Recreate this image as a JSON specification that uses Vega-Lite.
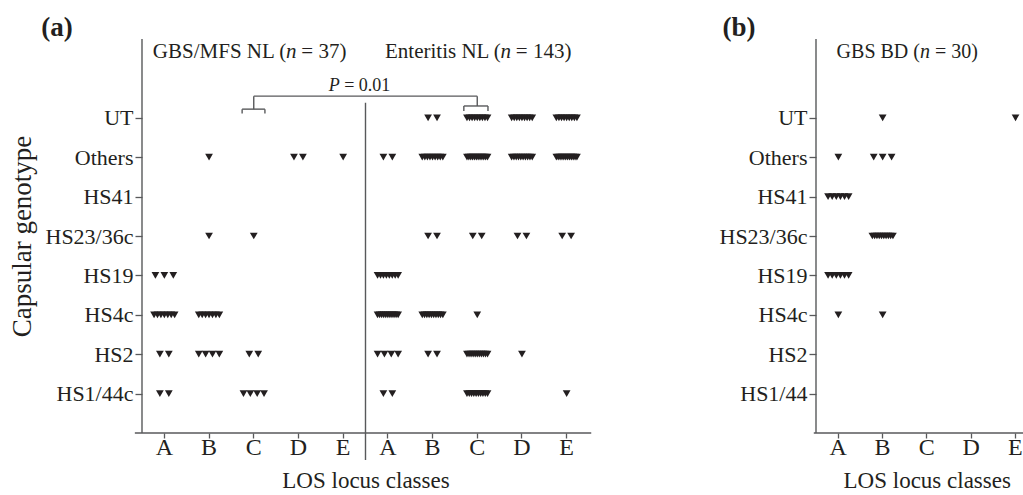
{
  "$schema": "https://vega.github.io/schema/vega-lite/v6.json",
  "background": "white",
  "padding": {"left": 8, "top": 13, "right": 0, "bottom": 0},
  "config": {
    "font": "Liberation Serif",
    "view": {"stroke": null},
    "axis": {"domain": false, "grid": false, "tickColor": "#58595b", "tickWidth": 1.3, "labelFont": "Liberation Serif", "labelColor": "#231f20", "titleFont": "Liberation Serif", "titleFontWeight": "normal", "titleColor": "#231f20"},
    "text": {"font": "Liberation Serif", "color": "#231f20"}
  },
  "datasets": {
    "pointsA": [
      {"group":"GBS","los":"B","genotype":"Others"},
      {"group":"GBS","los":"D","genotype":"Others"},{"group":"GBS","los":"D","genotype":"Others"},
      {"group":"GBS","los":"E","genotype":"Others"},
      {"group":"GBS","los":"B","genotype":"HS23/36c"},
      {"group":"GBS","los":"C","genotype":"HS23/36c"},
      {"group":"GBS","los":"A","genotype":"HS19"},{"group":"GBS","los":"A","genotype":"HS19"},{"group":"GBS","los":"A","genotype":"HS19"},
      {"group":"GBS","los":"A","genotype":"HS4c"},{"group":"GBS","los":"A","genotype":"HS4c"},{"group":"GBS","los":"A","genotype":"HS4c"},{"group":"GBS","los":"A","genotype":"HS4c"},{"group":"GBS","los":"A","genotype":"HS4c"},{"group":"GBS","los":"A","genotype":"HS4c"},{"group":"GBS","los":"A","genotype":"HS4c"},
      {"group":"GBS","los":"B","genotype":"HS4c"},{"group":"GBS","los":"B","genotype":"HS4c"},{"group":"GBS","los":"B","genotype":"HS4c"},{"group":"GBS","los":"B","genotype":"HS4c"},{"group":"GBS","los":"B","genotype":"HS4c"},{"group":"GBS","los":"B","genotype":"HS4c"},{"group":"GBS","los":"B","genotype":"HS4c"},
      {"group":"GBS","los":"A","genotype":"HS2"},{"group":"GBS","los":"A","genotype":"HS2"},
      {"group":"GBS","los":"B","genotype":"HS2"},{"group":"GBS","los":"B","genotype":"HS2"},{"group":"GBS","los":"B","genotype":"HS2"},{"group":"GBS","los":"B","genotype":"HS2"},
      {"group":"GBS","los":"C","genotype":"HS2"},{"group":"GBS","los":"C","genotype":"HS2"},
      {"group":"GBS","los":"A","genotype":"HS1/44c"},{"group":"GBS","los":"A","genotype":"HS1/44c"},
      {"group":"GBS","los":"C","genotype":"HS1/44c"},{"group":"GBS","los":"C","genotype":"HS1/44c"},{"group":"GBS","los":"C","genotype":"HS1/44c"},{"group":"GBS","los":"C","genotype":"HS1/44c"},

      {"group":"Ent","los":"B","genotype":"UT"},{"group":"Ent","los":"B","genotype":"UT"},
      {"group":"Ent","los":"C","genotype":"UT"},{"group":"Ent","los":"C","genotype":"UT"},{"group":"Ent","los":"C","genotype":"UT"},{"group":"Ent","los":"C","genotype":"UT"},{"group":"Ent","los":"C","genotype":"UT"},{"group":"Ent","los":"C","genotype":"UT"},{"group":"Ent","los":"C","genotype":"UT"},{"group":"Ent","los":"C","genotype":"UT"},{"group":"Ent","los":"C","genotype":"UT"},
      {"group":"Ent","los":"D","genotype":"UT"},{"group":"Ent","los":"D","genotype":"UT"},{"group":"Ent","los":"D","genotype":"UT"},{"group":"Ent","los":"D","genotype":"UT"},{"group":"Ent","los":"D","genotype":"UT"},{"group":"Ent","los":"D","genotype":"UT"},{"group":"Ent","los":"D","genotype":"UT"},{"group":"Ent","los":"D","genotype":"UT"},{"group":"Ent","los":"D","genotype":"UT"},
      {"group":"Ent","los":"E","genotype":"UT"},{"group":"Ent","los":"E","genotype":"UT"},{"group":"Ent","los":"E","genotype":"UT"},{"group":"Ent","los":"E","genotype":"UT"},{"group":"Ent","los":"E","genotype":"UT"},{"group":"Ent","los":"E","genotype":"UT"},{"group":"Ent","los":"E","genotype":"UT"},{"group":"Ent","los":"E","genotype":"UT"},{"group":"Ent","los":"E","genotype":"UT"},

      {"group":"Ent","los":"A","genotype":"Others"},{"group":"Ent","los":"A","genotype":"Others"},
      {"group":"Ent","los":"B","genotype":"Others"},{"group":"Ent","los":"B","genotype":"Others"},{"group":"Ent","los":"B","genotype":"Others"},{"group":"Ent","los":"B","genotype":"Others"},{"group":"Ent","los":"B","genotype":"Others"},{"group":"Ent","los":"B","genotype":"Others"},{"group":"Ent","los":"B","genotype":"Others"},{"group":"Ent","los":"B","genotype":"Others"},{"group":"Ent","los":"B","genotype":"Others"},
      {"group":"Ent","los":"C","genotype":"Others"},{"group":"Ent","los":"C","genotype":"Others"},{"group":"Ent","los":"C","genotype":"Others"},{"group":"Ent","los":"C","genotype":"Others"},{"group":"Ent","los":"C","genotype":"Others"},{"group":"Ent","los":"C","genotype":"Others"},{"group":"Ent","los":"C","genotype":"Others"},{"group":"Ent","los":"C","genotype":"Others"},{"group":"Ent","los":"C","genotype":"Others"},{"group":"Ent","los":"C","genotype":"Others"},{"group":"Ent","los":"C","genotype":"Others"},{"group":"Ent","los":"C","genotype":"Others"},
      {"group":"Ent","los":"D","genotype":"Others"},{"group":"Ent","los":"D","genotype":"Others"},{"group":"Ent","los":"D","genotype":"Others"},{"group":"Ent","los":"D","genotype":"Others"},{"group":"Ent","los":"D","genotype":"Others"},{"group":"Ent","los":"D","genotype":"Others"},{"group":"Ent","los":"D","genotype":"Others"},{"group":"Ent","los":"D","genotype":"Others"},{"group":"Ent","los":"D","genotype":"Others"},{"group":"Ent","los":"D","genotype":"Others"},
      {"group":"Ent","los":"E","genotype":"Others"},{"group":"Ent","los":"E","genotype":"Others"},{"group":"Ent","los":"E","genotype":"Others"},{"group":"Ent","los":"E","genotype":"Others"},{"group":"Ent","los":"E","genotype":"Others"},{"group":"Ent","los":"E","genotype":"Others"},{"group":"Ent","los":"E","genotype":"Others"},{"group":"Ent","los":"E","genotype":"Others"},{"group":"Ent","los":"E","genotype":"Others"},{"group":"Ent","los":"E","genotype":"Others"},{"group":"Ent","los":"E","genotype":"Others"},{"group":"Ent","los":"E","genotype":"Others"},

      {"group":"Ent","los":"B","genotype":"HS23/36c"},{"group":"Ent","los":"B","genotype":"HS23/36c"},
      {"group":"Ent","los":"C","genotype":"HS23/36c"},{"group":"Ent","los":"C","genotype":"HS23/36c"},
      {"group":"Ent","los":"D","genotype":"HS23/36c"},{"group":"Ent","los":"D","genotype":"HS23/36c"},
      {"group":"Ent","los":"E","genotype":"HS23/36c"},{"group":"Ent","los":"E","genotype":"HS23/36c"},

      {"group":"Ent","los":"A","genotype":"HS19"},{"group":"Ent","los":"A","genotype":"HS19"},{"group":"Ent","los":"A","genotype":"HS19"},{"group":"Ent","los":"A","genotype":"HS19"},{"group":"Ent","los":"A","genotype":"HS19"},{"group":"Ent","los":"A","genotype":"HS19"},{"group":"Ent","los":"A","genotype":"HS19"},{"group":"Ent","los":"A","genotype":"HS19"},

      {"group":"Ent","los":"A","genotype":"HS4c"},{"group":"Ent","los":"A","genotype":"HS4c"},{"group":"Ent","los":"A","genotype":"HS4c"},{"group":"Ent","los":"A","genotype":"HS4c"},{"group":"Ent","los":"A","genotype":"HS4c"},{"group":"Ent","los":"A","genotype":"HS4c"},{"group":"Ent","los":"A","genotype":"HS4c"},{"group":"Ent","los":"A","genotype":"HS4c"},{"group":"Ent","los":"A","genotype":"HS4c"},{"group":"Ent","los":"A","genotype":"HS4c"},{"group":"Ent","los":"A","genotype":"HS4c"},
      {"group":"Ent","los":"B","genotype":"HS4c"},{"group":"Ent","los":"B","genotype":"HS4c"},{"group":"Ent","los":"B","genotype":"HS4c"},{"group":"Ent","los":"B","genotype":"HS4c"},{"group":"Ent","los":"B","genotype":"HS4c"},{"group":"Ent","los":"B","genotype":"HS4c"},{"group":"Ent","los":"B","genotype":"HS4c"},{"group":"Ent","los":"B","genotype":"HS4c"},{"group":"Ent","los":"B","genotype":"HS4c"},{"group":"Ent","los":"B","genotype":"HS4c"},
      {"group":"Ent","los":"C","genotype":"HS4c"},

      {"group":"Ent","los":"A","genotype":"HS2"},{"group":"Ent","los":"A","genotype":"HS2"},{"group":"Ent","los":"A","genotype":"HS2"},{"group":"Ent","los":"A","genotype":"HS2"},
      {"group":"Ent","los":"B","genotype":"HS2"},{"group":"Ent","los":"B","genotype":"HS2"},
      {"group":"Ent","los":"C","genotype":"HS2"},{"group":"Ent","los":"C","genotype":"HS2"},{"group":"Ent","los":"C","genotype":"HS2"},{"group":"Ent","los":"C","genotype":"HS2"},{"group":"Ent","los":"C","genotype":"HS2"},{"group":"Ent","los":"C","genotype":"HS2"},{"group":"Ent","los":"C","genotype":"HS2"},{"group":"Ent","los":"C","genotype":"HS2"},{"group":"Ent","los":"C","genotype":"HS2"},{"group":"Ent","los":"C","genotype":"HS2"},{"group":"Ent","los":"C","genotype":"HS2"},
      {"group":"Ent","los":"D","genotype":"HS2"},

      {"group":"Ent","los":"A","genotype":"HS1/44c"},{"group":"Ent","los":"A","genotype":"HS1/44c"},
      {"group":"Ent","los":"C","genotype":"HS1/44c"},{"group":"Ent","los":"C","genotype":"HS1/44c"},{"group":"Ent","los":"C","genotype":"HS1/44c"},{"group":"Ent","los":"C","genotype":"HS1/44c"},{"group":"Ent","los":"C","genotype":"HS1/44c"},{"group":"Ent","los":"C","genotype":"HS1/44c"},{"group":"Ent","los":"C","genotype":"HS1/44c"},{"group":"Ent","los":"C","genotype":"HS1/44c"},{"group":"Ent","los":"C","genotype":"HS1/44c"},{"group":"Ent","los":"C","genotype":"HS1/44c"},
      {"group":"Ent","los":"E","genotype":"HS1/44c"}
    ],
    "pointsB": [
      {"los":"B","genotype":"UT"},{"los":"E","genotype":"UT"},
      {"los":"A","genotype":"Others"},
      {"los":"B","genotype":"Others"},{"los":"B","genotype":"Others"},{"los":"B","genotype":"Others"},
      {"los":"A","genotype":"HS41"},{"los":"A","genotype":"HS41"},{"los":"A","genotype":"HS41"},{"los":"A","genotype":"HS41"},{"los":"A","genotype":"HS41"},{"los":"A","genotype":"HS41"},
      {"los":"B","genotype":"HS23/36c"},{"los":"B","genotype":"HS23/36c"},{"los":"B","genotype":"HS23/36c"},{"los":"B","genotype":"HS23/36c"},{"los":"B","genotype":"HS23/36c"},{"los":"B","genotype":"HS23/36c"},{"los":"B","genotype":"HS23/36c"},{"los":"B","genotype":"HS23/36c"},{"los":"B","genotype":"HS23/36c"},{"los":"B","genotype":"HS23/36c"},
      {"los":"A","genotype":"HS19"},{"los":"A","genotype":"HS19"},{"los":"A","genotype":"HS19"},{"los":"A","genotype":"HS19"},{"los":"A","genotype":"HS19"},{"los":"A","genotype":"HS19"},
      {"los":"A","genotype":"HS4c"},{"los":"B","genotype":"HS4c"}
    ],
    "segA": [
      {"x":0,"x2":0,"y":0,"y2":10},
      {"x":-0.16,"x2":10.05,"y":0,"y2":0},
      {"x":5,"x2":5,"y":8.38,"y2":-0.685},
      {"x":2.24,"x2":2.75,"y":8.22,"y2":8.22},
      {"x":2.24,"x2":2.24,"y":8.22,"y2":8.11},
      {"x":2.75,"x2":2.75,"y":8.22,"y2":8.11},
      {"x":2.5,"x2":2.5,"y":8.22,"y2":8.55},
      {"x":2.5,"x2":7.5,"y":8.55,"y2":8.55},
      {"x":7.5,"x2":7.5,"y":8.55,"y2":8.3},
      {"x":7.2,"x2":7.74,"y":8.3,"y2":8.3},
      {"x":7.2,"x2":7.2,"y":8.3,"y2":8.17},
      {"x":7.74,"x2":7.74,"y":8.3,"y2":8.17}
    ],
    "segB": [
      {"x":0,"x2":0,"y":0,"y2":10},
      {"x":-0.05,"x2":4.72,"y":0,"y2":0}
    ],
    "textA": [
      {"role":"tag","x":-1.9,"y":10.28,"text":"(a)"},
      {"role":"prefix","x":3.34,"y":9.67,"text":"GBS/MFS NL ("},
      {"role":"italic","x":3.34,"y":9.67,"text":"n"},
      {"role":"suffix","x":3.34,"y":9.67,"text":"= 37)"},
      {"role":"prefix","x":8.14,"y":9.67,"text":"Enteritis NL ("},
      {"role":"italic","x":8.14,"y":9.67,"text":"n"},
      {"role":"suffix","x":8.14,"y":9.67,"text":"= 143)"},
      {"role":"pitalic","x":4.3,"y":8.81,"text":"P"},
      {"role":"psuffix","x":4.3,"y":8.81,"text":"= 0.01"}
    ],
    "textB": [
      {"role":"tag","x":-1.74,"y":10.28,"text":"(b)"},
      {"role":"prefix","x":2.46,"y":9.67,"text":"GBS BD ("},
      {"role":"italic","x":2.46,"y":9.67,"text":"n"},
      {"role":"suffix","x":2.46,"y":9.67,"text":"= 30)"}
    ]
  },
  "spacing": 127,
  "hconcat": [
    {
      "width": 447,
      "height": 394,
      "layer": [
        {
          "data": {"name": "pointsA"},
          "transform": [
            {"window": [{"op": "row_number", "as": "rank"}], "groupby": ["group", "los", "genotype"]},
            {"joinaggregate": [{"op": "count", "as": "n"}], "groupby": ["group", "los", "genotype"]},
            {"calculate": "(datum.rank - 1 - (datum.n - 1) / 2) * min(1, 2.3 / max(datum.n - 1, 1))", "as": "spread"},
            {"calculate": "datum.group + ' ' + datum.los", "as": "column"}
          ],
          "mark": {"type": "point", "shape": "triangle-down", "filled": true, "size": 60, "color": "#231f20", "opacity": 1, "strokeWidth": 0},
          "encoding": {
            "x": {"field": "column", "type": "nominal", "sort": null,
              "scale": {"type": "band", "domain": ["GBS A","GBS B","GBS C","GBS D","GBS E","Ent A","Ent B","Ent C","Ent D","Ent E"], "paddingInner": 0, "paddingOuter": 0},
              "axis": {"title": "LOS locus classes", "labelExpr": "slice(datum.label, -1)", "labelAngle": 0, "tickSize": 5, "labelFontSize": 24, "titleFontSize": 23, "labelPadding": -3, "titlePadding": 10}},
            "xOffset": {"field": "spread", "type": "quantitative", "scale": {"domain": [-2.5, 2.5], "range": [0, 44.7]}},
            "y": {"field": "genotype", "type": "ordinal",
              "scale": {"type": "point", "domain": ["t1","t2","UT","Others","HS41","HS23/36c","HS19","HS4c","HS2","HS1/44c","b1"], "padding": 0},
              "axis": {"values": ["UT","Others","HS41","HS23/36c","HS19","HS4c","HS2","HS1/44c"], "title": "Capsular genotype", "tickSize": 7, "labelFontSize": 22, "titleFontSize": 27, "titlePadding": 9, "labelPadding": 2}}
          }
        },
        {
          "layer": [
            {
              "data": {"name": "segA"},
              "mark": {"type": "rule", "color": "#58595b", "strokeWidth": 1.4},
              "encoding": {
                "x": {"field": "x", "type": "quantitative", "scale": {"domain": [0, 10], "nice": false, "zero": false}, "axis": null},
                "x2": {"field": "x2"},
                "y": {"field": "y", "type": "quantitative", "scale": {"domain": [0, 10], "nice": false, "zero": false}, "axis": null},
                "y2": {"field": "y2"}
              }
            },
            {
              "data": {"name": "textA"},
              "transform": [{"filter": "datum.role == 'tag'"}],
              "mark": {"type": "text", "fontSize": 27, "fontWeight": "bold", "align": "center", "baseline": "middle"},
              "encoding": {"x": {"field": "x", "type": "quantitative"}, "y": {"field": "y", "type": "quantitative"}, "text": {"field": "text"}}
            },
            {
              "data": {"name": "textA"},
              "transform": [{"filter": "datum.role == 'prefix'"}],
              "mark": {"type": "text", "fontSize": 21, "align": "right", "baseline": "middle", "dx": -5},
              "encoding": {"x": {"field": "x", "type": "quantitative"}, "y": {"field": "y", "type": "quantitative"}, "text": {"field": "text"}}
            },
            {
              "data": {"name": "textA"},
              "transform": [{"filter": "datum.role == 'italic'"}],
              "mark": {"type": "text", "fontSize": 21, "fontStyle": "italic", "align": "center", "baseline": "middle"},
              "encoding": {"x": {"field": "x", "type": "quantitative"}, "y": {"field": "y", "type": "quantitative"}, "text": {"field": "text"}}
            },
            {
              "data": {"name": "textA"},
              "transform": [{"filter": "datum.role == 'suffix'"}],
              "mark": {"type": "text", "fontSize": 21, "align": "left", "baseline": "middle", "dx": 10},
              "encoding": {"x": {"field": "x", "type": "quantitative"}, "y": {"field": "y", "type": "quantitative"}, "text": {"field": "text"}}
            },
            {
              "data": {"name": "textA"},
              "transform": [{"filter": "datum.role == 'pitalic'"}],
              "mark": {"type": "text", "fontSize": 18, "fontStyle": "italic", "align": "center", "baseline": "middle"},
              "encoding": {"x": {"field": "x", "type": "quantitative"}, "y": {"field": "y", "type": "quantitative"}, "text": {"field": "text"}}
            },
            {
              "data": {"name": "textA"},
              "transform": [{"filter": "datum.role == 'psuffix'"}],
              "mark": {"type": "text", "fontSize": 18, "align": "left", "baseline": "middle", "dx": 10},
              "encoding": {"x": {"field": "x", "type": "quantitative"}, "y": {"field": "y", "type": "quantitative"}, "text": {"field": "text"}}
            }
          ]
        }
      ],
      "resolve": {"scale": {"x": "independent", "y": "independent"}}
    },
    {
      "width": 209,
      "height": 394,
      "layer": [
        {
          "data": {"name": "pointsB"},
          "transform": [
            {"window": [{"op": "row_number", "as": "rank"}], "groupby": ["los", "genotype"]},
            {"joinaggregate": [{"op": "count", "as": "n"}], "groupby": ["los", "genotype"]},
            {"calculate": "(datum.rank - 1 - (datum.n - 1) / 2) * min(1, 2.3 / max(datum.n - 1, 1))", "as": "spread"}
          ],
          "mark": {"type": "point", "shape": "triangle-down", "filled": true, "size": 60, "color": "#231f20", "opacity": 1, "strokeWidth": 0},
          "encoding": {
            "x": {"field": "los", "type": "nominal", "sort": null,
              "scale": {"type": "band", "domain": ["A","B","C","D","E"], "range": [0, 221.5], "paddingInner": 0, "paddingOuter": 0},
              "axis": {"title": "LOS locus classes", "labelAngle": 0, "tickSize": 5, "labelFontSize": 24, "titleFontSize": 23, "labelPadding": -3, "titlePadding": 10}},
            "xOffset": {"field": "spread", "type": "quantitative", "scale": {"domain": [-2.5, 2.5], "range": [0, 44.3]}},
            "y": {"field": "genotype", "type": "ordinal",
              "scale": {"type": "point", "domain": ["t1","t2","UT","Others","HS41","HS23/36c","HS19","HS4c","HS2","HS1/44","b1"], "padding": 0},
              "axis": {"values": ["UT","Others","HS41","HS23/36c","HS19","HS4c","HS2","HS1/44"], "title": null, "tickSize": 7, "labelFontSize": 22, "labelPadding": 2}}
          }
        },
        {
          "layer": [
            {
              "data": {"name": "segB"},
              "mark": {"type": "rule", "color": "#58595b", "strokeWidth": 1.4},
              "encoding": {
                "x": {"field": "x", "type": "quantitative", "scale": {"domain": [0, 5], "range": [0, 221.5], "nice": false, "zero": false}, "axis": null},
                "x2": {"field": "x2"},
                "y": {"field": "y", "type": "quantitative", "scale": {"domain": [0, 10], "nice": false, "zero": false}, "axis": null},
                "y2": {"field": "y2"}
              }
            },
            {
              "data": {"name": "textB"},
              "transform": [{"filter": "datum.role == 'tag'"}],
              "mark": {"type": "text", "fontSize": 27, "fontWeight": "bold", "align": "center", "baseline": "middle"},
              "encoding": {"x": {"field": "x", "type": "quantitative"}, "y": {"field": "y", "type": "quantitative"}, "text": {"field": "text"}}
            },
            {
              "data": {"name": "textB"},
              "transform": [{"filter": "datum.role == 'prefix'"}],
              "mark": {"type": "text", "fontSize": 20, "align": "right", "baseline": "middle", "dx": -5},
              "encoding": {"x": {"field": "x", "type": "quantitative"}, "y": {"field": "y", "type": "quantitative"}, "text": {"field": "text"}}
            },
            {
              "data": {"name": "textB"},
              "transform": [{"filter": "datum.role == 'italic'"}],
              "mark": {"type": "text", "fontSize": 20, "fontStyle": "italic", "align": "center", "baseline": "middle"},
              "encoding": {"x": {"field": "x", "type": "quantitative"}, "y": {"field": "y", "type": "quantitative"}, "text": {"field": "text"}}
            },
            {
              "data": {"name": "textB"},
              "transform": [{"filter": "datum.role == 'suffix'"}],
              "mark": {"type": "text", "fontSize": 20, "align": "left", "baseline": "middle", "dx": 10},
              "encoding": {"x": {"field": "x", "type": "quantitative"}, "y": {"field": "y", "type": "quantitative"}, "text": {"field": "text"}}
            }
          ]
        }
      ],
      "resolve": {"scale": {"x": "independent", "y": "independent"}}
    }
  ]
}
